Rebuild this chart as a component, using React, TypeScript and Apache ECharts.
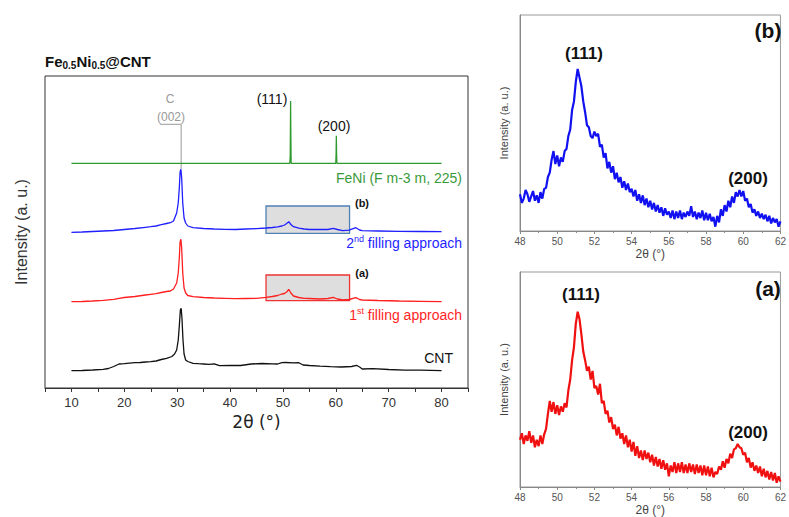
import React, { useEffect, useRef } from "react";
import * as echarts from "echarts";

// ---- Main panel data (2θ in degrees, intensity in arbitrary stacked units) ----
const cntX = [10,12,14,16,17,18,19,20,21,22,23,24,25,26,27,28,29,29.5,29.9,30.2,30.4,30.6,30.75,30.9,31.1,31.3,31.6,32,33,34,35,36,37,38,40,42,44,46,48,49,49.8,50.5,52,53,53.8,55,57,59,61,63,63.9,64.5,65,67,70,73,76,78,80];
const cntY = [17.3,17.5,18,18.7,19.5,21.5,24,24.3,24.8,25.3,25.5,26,26.3,27,28.5,29.7,31.5,34,38,48,62,78,79.7,70,48,34,28,26.5,24.7,24.3,24,23.7,24.2,22.3,22.5,22.5,24,24.5,24.2,24,25.3,25.5,25.2,25.3,23,22.5,21.8,21.3,21,21.5,22.7,21,19,19.3,18.5,17.8,17.8,17.6,17.3];

const fillX = [10,12,14,16,18,19,20,22,24,25,26,27,28,28.7,29.3,29.9,30.2,30.4,30.55,30.7,30.85,31.05,31.3,31.6,32,33,35,37,39,41,43,45,46.8,48,49,49.8,50.3,50.7,51.1,51.5,52,53,54,55,57,58.5,59.5,60.3,61.3,62.5,63.8,64.5,65,68,72,76,80];
const firstY = [86.3,86.5,87,87.6,88.7,89.7,90.5,91.5,93,93.7,94.3,95.5,96.5,97,99,105,115,130,146,148.7,140,115,100,95,92.5,91.3,90.5,90,89.7,89.3,89.5,89.7,90.7,91.5,92.5,94,94.5,96,98.7,95,92,90.5,89.7,89.5,89,89.5,90.7,89,88,88.5,90.3,88.5,88,87.5,87,86.7,86.3];
const secondY = [155.7,156,156.5,157,157.5,158,158.5,159.5,160.7,161.3,162,163.3,164.5,165.3,167,175,185,200,216,218.7,210,185,170,165,162,160.3,159.5,159,158.7,158.5,159,159.3,160,160.5,161.2,162,163,164.5,166.3,163.5,161.3,159.8,159,158.5,158.5,158.5,159.7,158.5,157.3,157.8,160.3,158,157.3,157,156.6,156.5,156.3];

const refX = [10,51.3,51.38,51.42,51.45,51.5,51.55,60.0,60.06,60.1,60.15,60.2,80];
const refY = [224.7,224.7,232,260,287,250,224.7,224.7,235,252.3,232,224.7,224.7];

const carbonX = [26.8,30.75,30.75];
const carbonY = [263.7,263.7,219];

// zoom boxes [x0, x1, yTop, yBottom]
const boxB = [46.8, 62.6, 182, 154.7];
const boxA = [46.8, 62.6, 113, 87.3];

// ---- Inset data (2θ from 48 to 62, step 0.1) ----
const insetStart = 48;
const insetStep = 0.1;
const insetB = [
  17,13,15,19,17,13.5,16,18.5,14,16.5,13,18,15,19.5,
  20,25,27,33,37,31,35,30,34,32,37,38,
  44,47,56,60,69,75,
  71,67,60,55,49,48,44,43,
  46,44,45,39,40,34,36,29,32,27,
  30,24,27,22.5,25,20,23,19,22,18,
  19.5,16,19,14,17,13,16.5,12,15,11,
  14,10,13,9,12,8.5,11,7,10.5,7.5,
  9,6,9.5,5.5,9,6,9.5,5.5,8.5,6.5,
  9,7,11.5,6.5,9,5.5,8.5,6,9.5,5,
  8.5,5,8,4.5,6.5,2,7,4,10,7,
  12,9,14,11,16,13,18,16,19,16,
  18.5,14,15,11,12.5,8.5,10,7,9,6,
  8,5.5,7.5,4.5,7,3.5,6,4,5.5,2,4.5,
];
const insetA = [
  22,25,20,24,21.5,26,20.5,24,18.5,22,19,24,20,24.5,
  27,34,40,35,39.5,34,38,33.5,37.5,35,39,37,
  45,50,59,65,76,81.5,
  78,71,63,59,54,56,50,54,
  46,47,43,48,39,40,34,35.5,30,32.5,
  27,29,24,28,22.5,25,20,24,18.5,22,
  16.5,21,14.5,19,13.5,17,12.5,17,13,16,
  11.5,15,10,14,9.5,13,8.5,12.5,8,11,
  5,10,7,11.5,6.5,11,7,11.5,6.5,10.5,
  6.5,11,7,10.5,6,10.5,6.5,10,5.5,10,
  5.5,9.5,5,9,4.5,7,6,9.5,8,12,
  9,13,11,15.5,13.5,17.5,18,20,18.5,18,
  15,16,11.5,13.5,9,11.5,7.5,10,6.5,9.5,
  5,8.5,4.5,7.5,3.5,7,3,6.5,2,5,2.5,
];

const mainTicks = { min: 5, max: 85, interval: 5 };
const insetTicks = { min: 48, max: 62, interval: 2 };

const pairs = (xs: number[], ys: number[]) => xs.map((x, i) => [x, ys[i]]);
const insetPairs = (ys: number[]) => ys.map((y, i) => [+(insetStart + i * insetStep).toFixed(2), y]);

const FONT = "Liberation Sans, Arial, sans-serif";

export default function App() {
  const ref = useRef<HTMLDivElement>(null);
  useEffect(() => {
    if (!ref.current) return;
    const chart = echarts.init(ref.current, null, { renderer: "svg" });

    const insetAxisX = (gridIndex: number) => ({
      type: "value",
      gridIndex,
      min: insetTicks.min,
      max: insetTicks.max,
      interval: insetTicks.interval,
      name: "2θ (°)",
      nameLocation: "middle",
      nameGap: 17,
      nameTextStyle: { fontSize: 12, color: "#444", fontFamily: FONT },
      axisLine: { lineStyle: { color: "#888" } },
      axisTick: { show: true, length: 3, lineStyle: { color: "#888" } },
      minorTick: { show: true, splitNumber: 2, length: 2, lineStyle: { color: "#888" } },
      axisLabel: { fontSize: 10, color: "#555", margin: 5, fontFamily: FONT },
      splitLine: { show: false },
    });
    const insetAxisY = (gridIndex: number) => ({
      type: "value",
      gridIndex,
      min: 0,
      max: 100,
      name: "Intensity (a. u.)",
      nameLocation: "middle",
      nameGap: 11,
      nameTextStyle: { fontSize: 11, color: "#444", fontFamily: FONT },
      axisLine: { show: true, lineStyle: { color: "#888" } },
      axisTick: { show: false },
      axisLabel: { show: false },
      splitLine: { show: false },
    });

    const txt = (x: number, y: number, text: string, style: any) => ({
      type: "text",
      x,
      y,
      silent: true,
      style: { text, fontFamily: FONT, align: "center", verticalAlign: "middle", ...style },
    });

    chart.setOption({
      animation: false,
      backgroundColor: "#fff",
      grid: [
        { left: 45, top: 76, width: 423, height: 312, show: true, borderColor: "#333", borderWidth: 1 },
        { left: 520, top: 15, width: 270, height: 216, show: true, borderColor: "#999", borderWidth: 1 },
        { left: 520, top: 272, width: 270, height: 216, show: true, borderColor: "#999", borderWidth: 1 },
      ],
      xAxis: [
        {
          type: "value",
          gridIndex: 0,
          min: mainTicks.min,
          max: mainTicks.max,
          interval: mainTicks.interval,
          name: "2θ (°)",
          nameLocation: "middle",
          nameGap: 25,
          nameTextStyle: { fontSize: 17, color: "#222", fontFamily: "DejaVu Sans, sans-serif" },
          axisLine: { lineStyle: { color: "#333" } },
          axisTick: { show: true, length: 4, lineStyle: { color: "#333" } },
          axisLabel: {
            fontSize: 13,
            color: "#333",
            margin: 8,
            fontFamily: FONT,
            formatter: (v: number) => (v % 10 === 0 && v >= 10 && v <= 80 ? String(v) : ""),
          },
          splitLine: { show: false },
        },
        insetAxisX(1),
        insetAxisX(2),
      ],
      yAxis: [
        {
          type: "value",
          gridIndex: 0,
          min: 0,
          max: 312,
          name: "Intensity (a. u.)",
          nameLocation: "middle",
          nameGap: 16,
          nameTextStyle: { fontSize: 16, color: "#333", fontFamily: FONT },
          axisLine: { show: false },
          axisTick: { show: false },
          axisLabel: { show: false },
          splitLine: { show: false },
        },
        insetAxisY(1),
        insetAxisY(2),
      ],
      series: [
        {
          type: "line", xAxisIndex: 0, yAxisIndex: 0, showSymbol: false, silent: true,
          data: pairs(carbonX, carbonY),
          lineStyle: { color: "#999", width: 1 },
        },
        {
          type: "line", xAxisIndex: 0, yAxisIndex: 0, showSymbol: false, silent: true,
          data: pairs(refX, refY),
          lineStyle: { color: "#2e9a2e", width: 1.3 },
        },
        {
          type: "line", xAxisIndex: 0, yAxisIndex: 0, showSymbol: false, silent: true,
          data: pairs(fillX, secondY),
          lineStyle: { color: "#1f1fff", width: 1.3 },
          markArea: {
            silent: true,
            itemStyle: { color: "#dedede", borderColor: "#4f81b5", borderWidth: 1.3 },
            data: [[{ coord: [boxB[0], boxB[2]] }, { coord: [boxB[1], boxB[3]] }]],
          },
        },
        {
          type: "line", xAxisIndex: 0, yAxisIndex: 0, showSymbol: false, silent: true,
          data: pairs(fillX, firstY),
          lineStyle: { color: "#ff1f1f", width: 1.3 },
          markArea: {
            silent: true,
            itemStyle: { color: "#dedede", borderColor: "#ee3333", borderWidth: 1.3 },
            data: [[{ coord: [boxA[0], boxA[2]] }, { coord: [boxA[1], boxA[3]] }]],
          },
        },
        {
          type: "line", xAxisIndex: 0, yAxisIndex: 0, showSymbol: false, silent: true,
          data: pairs(cntX, cntY),
          lineStyle: { color: "#111", width: 1.3 },
        },
        {
          type: "line", xAxisIndex: 1, yAxisIndex: 1, showSymbol: false, silent: true,
          data: insetPairs(insetB),
          lineStyle: { color: "#1010f0", width: 2.2 },
        },
        {
          type: "line", xAxisIndex: 2, yAxisIndex: 2, showSymbol: false, silent: true,
          data: insetPairs(insetA),
          lineStyle: { color: "#f01010", width: 2.2 },
        },
      ],
      graphic: [
        txt(45, 61, "{b|Fe}{s|0.5}{b|Ni}{s|0.5}{b|@CNT}", {
          align: "left",
          rich: {
            b: { fontSize: 15, fontWeight: "bold", fontFamily: FONT, fill: "#111" },
            s: { fontSize: 10, fontWeight: "bold", fontFamily: FONT, fill: "#111", padding: [9, 0, 0, 0] },
          },
        }),
        txt(170, 99, "C", { fontSize: 12, fill: "#999" }),
        txt(171, 117, "(002)", { fontSize: 12, fill: "#999" }),
        txt(272, 99, "(111)", { fontSize: 14, fill: "#111" }),
        txt(334, 126, "(200)", { fontSize: 14, fill: "#111" }),
        txt(462, 178, "FeNi (F m-3 m, 225)", { fontSize: 14, fill: "#3a9a3a", align: "right" }),
        txt(362, 203, "(b)", { fontSize: 11, fontWeight: "bold", fill: "#111" }),
        txt(462, 243, "{n|2}{s|nd}{n| filling approach}", {
          align: "right",
          rich: {
            n: { fontSize: 14, fill: "#1f1fff", fontFamily: FONT },
            s: { fontSize: 9, fill: "#1f1fff", fontFamily: FONT, padding: [0, 0, 9, 0] },
          },
        }),
        txt(362, 273, "(a)", { fontSize: 11, fontWeight: "bold", fill: "#111" }),
        txt(462, 315, "{n|1}{s|st}{n| filling approach}", {
          align: "right",
          rich: {
            n: { fontSize: 14, fill: "#ff1f1f", fontFamily: FONT },
            s: { fontSize: 9, fill: "#ff1f1f", fontFamily: FONT, padding: [0, 0, 9, 0] },
          },
        }),
        txt(453, 358, "CNT", { fontSize: 14, fill: "#111", align: "right" }),
        txt(768, 30, "(b)", { fontSize: 21, fontWeight: "bold", fill: "#111" }),
        txt(584, 53, "(111)", { fontSize: 17, fontWeight: "bold", fill: "#111" }),
        txt(748, 178, "(200)", { fontSize: 17, fontWeight: "bold", fill: "#111" }),
        txt(768, 288, "(a)", { fontSize: 21, fontWeight: "bold", fill: "#111" }),
        txt(581, 294, "(111)", { fontSize: 17, fontWeight: "bold", fill: "#111" }),
        txt(748, 432, "(200)", { fontSize: 17, fontWeight: "bold", fill: "#111" }),
      ],
    });
    return () => chart.dispose();
  }, []);

  return (
    <div
      ref={ref}
      style={{ position: "absolute", left: 0, top: 0, width: 789, height: 517, background: "#fff" }}
    />
  );
}
